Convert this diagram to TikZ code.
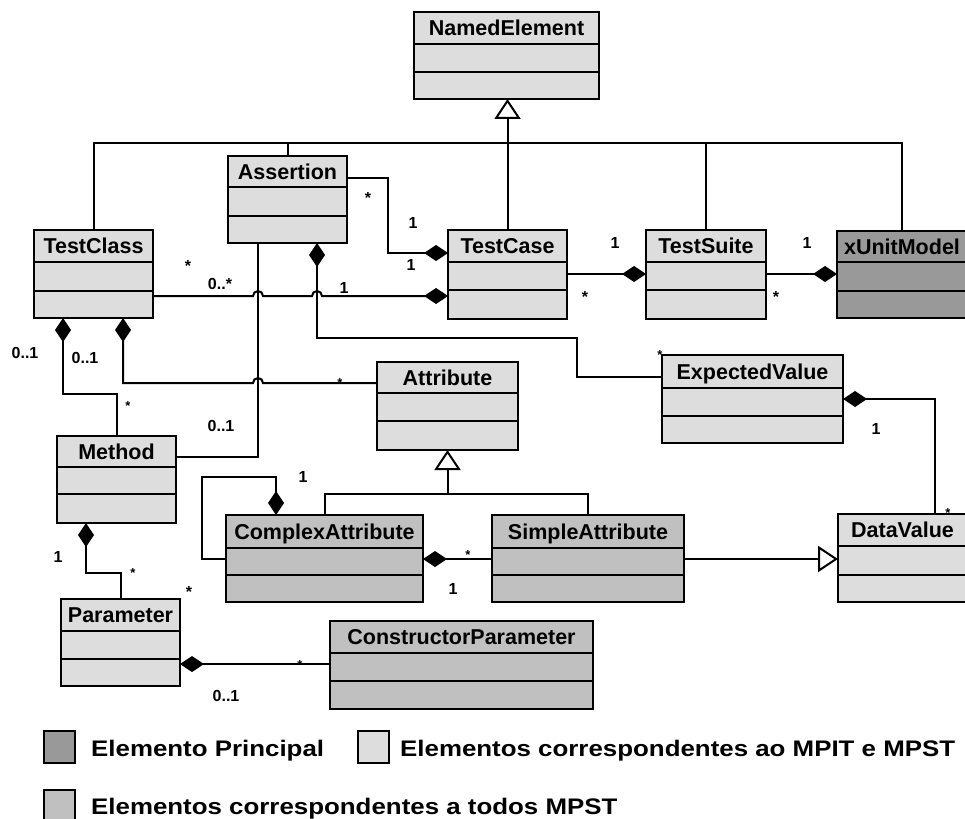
\documentclass[tikz,border=0pt]{standalone}
\usepackage{fontspec}
\setmainfont{Liberation Sans}
\newfontfamily\legendfont[FakeStretch=1.15]{Liberation Sans}
\usetikzlibrary{arrows.meta}
\definecolor{lightg}{RGB}{221,221,221}
\definecolor{midg}{RGB}{192,192,192}
\definecolor{darkg}{RGB}{153,153,153}
\tikzset{
  classbox/.style={draw, line width=2.4pt, inner sep=0pt, outer sep=0pt},
  boxline/.style={line width=2.4pt},
  hdr/.style={font=\fontsize{21.5}{24}\selectfont\bfseries, inner sep=0pt, text height=15.4pt, text depth=0pt},
  conn/.style={line width=2pt},
  comp/.style={conn, -{Diamond[length=24pt,width=16pt]}},
  compstart/.style={conn, {Diamond[length=24pt,width=16pt]}-},
  gen/.style={conn, -{Triangle[open,length=20pt,width=26pt,fill=white]}},
  lbl/.style={font=\fontsize{16}{18}\selectfont\bfseries, inner sep=0pt, text height=11.5pt, text depth=0pt},
  ast/.style={lbl, yshift=-3.5pt},
  sast/.style={font=\fontsize{13}{15}\selectfont\bfseries, inner sep=0pt, text height=9.3pt, text depth=0pt, yshift=-3pt},
  legbox/.style={draw, line width=1.5pt, inner sep=0pt, minimum width=31pt, minimum height=32pt, anchor=north west},
  legtext/.style={font=\legendfont\fontsize{22.5}{26}\selectfont\bfseries, inner sep=0pt, anchor=base west},
}
\newcommand{\umlclass}[9]{%
  \node[classbox, fill=#8, minimum width={(#4-#2)*1pt}, minimum height={(#7-#3)*1pt}, anchor=north west] (#1) at (#2,#3) {};
  \draw[boxline] (#2,#5) -- (#4,#5) (#2,#6) -- (#4,#6);
  \node[hdr] (#1-name) at ({(#2+#4)/2},{(#3+#5)/2}) {#9};
}
\begin{document}
\begin{tikzpicture}[x=1pt,y=-1pt]
\useasboundingbox (0,0) rectangle (965,818);
\clip (0,0) rectangle (965,818);
\fill[white] (0,0) rectangle (965,818);

% classes
\umlclass{NamedElement}{414}{12}{599}{44}{72}{99}{lightg}{NamedElement}
\umlclass{Assertion}{228}{156}{347}{187}{216}{243}{lightg}{Assertion}
\umlclass{TestClass}{34}{230}{153}{262}{291}{318}{lightg}{TestClass}
\umlclass{TestCase}{448}{230}{567}{262}{290}{319}{lightg}{TestCase}
\umlclass{TestSuite}{646}{230}{766}{262}{290}{319}{lightg}{TestSuite}
\umlclass{xUnitModel}{837}{231}{967}{262}{291}{318}{darkg}{xUnitModel}
\umlclass{Attribute}{377}{362}{518}{393}{421}{450}{lightg}{Attribute}
\umlclass{ExpectedValue}{662}{355}{843}{388}{416}{443}{lightg}{ExpectedValue}
\umlclass{Method}{57}{436}{176}{467}{494}{523}{lightg}{Method}
\umlclass{ComplexAttribute}{226}{515}{423}{548}{575}{602}{midg}{ComplexAttribute}
\umlclass{SimpleAttribute}{492}{515}{684}{548}{575}{602}{midg}{SimpleAttribute}
\umlclass{DataValue}{838}{514}{967}{546}{575}{602}{lightg}{DataValue}
\umlclass{Parameter}{61}{599}{180}{631}{659}{686}{lightg}{Parameter}
\umlclass{ConstructorParameter}{330}{621}{593}{653}{681}{709}{midg}{ConstructorParameter}

% generalization to NamedElement
\coordinate (bus) at (0,143);
\draw[conn] (TestClass.north) -- (TestClass.north |- bus) -- (xUnitModel.north |- bus) -- (xUnitModel.north);
\draw[conn] (Assertion.north) -- (Assertion.north |- bus);
\draw[conn] (TestSuite.north) -- (TestSuite.north |- bus);
\draw[gen] (TestCase.north) -- (TestCase.north |- NamedElement.south);

% associations
\draw[comp] (Assertion.east |- 0,178) -| (388,253) -- (TestCase.west |- 0,253);
\draw[comp] (TestClass.east |- 0,296) -- (253,296) arc[start angle=180,end angle=0,radius=5pt]
  -- (312,296) arc[start angle=180,end angle=0,radius=5pt] -- (TestCase.west |- 0,296);
\draw[comp] (TestCase.east |- 0,274) -- (TestSuite.west |- 0,274);
\draw[comp] (TestSuite.east |- 0,274) -- (xUnitModel.west |- 0,274);
\draw[compstart] (Assertion.south -| 317,0) -- (317,338) -| (577,377) -- (ExpectedValue.west |- 0,377);
\draw[conn] (Assertion.south -| 258,0) -- (258,457) -- (Method.east |- 0,457);
\draw[compstart] (TestClass.south -| 63,0) -- (63,394) -| (Method.north);
\draw[compstart] (TestClass.south -| 123,0) -- (123,383) -- (253,383) arc[start angle=180,end angle=0,radius=5pt]
  -- (Attribute.west |- 0,383);
\draw[conn] (ComplexAttribute.north) |- (SimpleAttribute.north |- 0,494) -- (SimpleAttribute.north);
\draw[gen] (Attribute.south |- 0,494) -- (Attribute.south);
\draw[compstart] (ComplexAttribute.north -| 276,0) -- (276,477) -| (202,559) -- (ComplexAttribute.west |- 0,559);
\draw[compstart] (ComplexAttribute.east |- 0,559) -- (SimpleAttribute.west |- 0,559);
\draw[gen] (SimpleAttribute.east |- 0,559) -- (DataValue.west |- 0,559);
\draw[compstart] (ExpectedValue.east |- 0,399) -| (DataValue.north -| 935,0);
\draw[compstart] (Method.south -| 86,0) -- (86,573) -| (Parameter.north);
\draw[compstart] (Parameter.east |- 0,664) -- (ConstructorParameter.west |- 0,664);

% multiplicities
\node[ast] (m1) at (368,194) {*};
\node[lbl] (m2) at (413,223) {1};
\node[lbl] (m3) at (411,265) {1};
\node[ast] (m4) at (188,262) {*};
\node[lbl] (m5) at (220,284) {0..*};
\node[lbl] (m6) at (344,288) {1};
\node[lbl] (m7) at (615,243) {1};
\node[ast] (m8) at (585,293) {*};
\node[lbl] (m9) at (807,243) {1};
\node[ast] (m10) at (776,293) {*};
\node[lbl] (m11) at (25,353) {0..1};
\node[lbl] (m12) at (85,358) {0..1};
\node[sast] (m13) at (128,403) {*};
\node[sast] (m14) at (340,380) {*};
\node[lbl] (m15) at (221,426) {0..1};
\node[lbl] (m16) at (303,477) {1};
\node[sast] (m17) at (660,352) {*};
\node[lbl] (m18) at (876,429) {1};
\node[sast] (m19) at (948,510) {*};
\node[sast] (m20) at (468,552) {*};
\node[lbl] (m21) at (453,589) {1};
\node[lbl] (m22) at (58,557) {1};
\node[sast] (m23) at (133,570) {*};
\node[ast] (m24) at (189,588) {*};
\node[sast] (m25) at (300,662) {*};
\node[lbl] (m26) at (226,696) {0..1};

% legend
\node[legbox, fill=darkg] (lg1) at (43,730) {};
\node[legtext] (lt1) at (91,756) {Elemento Principal};
\node[legbox, fill=lightg] (lg2) at (357,730) {};
\node[legtext] (lt2) at (400,756) {Elementos correspondentes ao MPIT e MPST};
\node[legbox, fill=midg] (lg3) at (43,789) {};
\node[legtext] (lt3) at (91,814) {Elementos correspondentes a todos MPST};
\end{tikzpicture}
\end{document}
